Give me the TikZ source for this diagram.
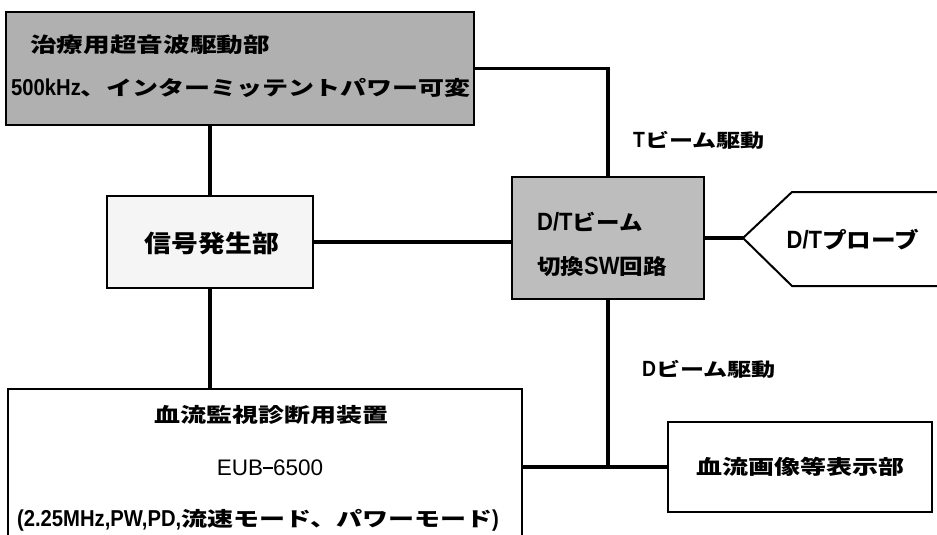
\documentclass[tikz,border=0pt]{standalone}
\usepackage{fontspec}
\newfontfamily\jpW{Noto Sans CJK JP}[FakeStretch=1.3]
\newfontfamily\jpM{Noto Sans CJK JP}[FakeStretch=1.12]
\newfontfamily\latf{Liberation Sans}
\newfontfamily\latN{Liberation Sans}[FakeStretch=0.88]
\newcommand\lt[2]{{\fontsize{#1}{#1}\selectfont\latN\bfseries #2}}
\begin{document}
\begin{tikzpicture}[x=1pt,y=-1pt,
  box/.style={draw=black, line width=2pt, inner sep=0pt},
  conn/.style={draw=black, line width=3.6pt},
  txt/.style={inner sep=0pt, text=black}]
\useasboundingbox (0,0) rectangle (937,535);
% boxes
\node[box, fill=black!31, minimum width=468pt, minimum height=113pt] (top) at (240,68.5) {};
\node[box, fill=black!26, minimum width=192pt, minimum height=122pt] (dt) at (608,238) {};
\node[box, fill=black!4, minimum width=206pt, minimum height=92pt] (sig) at (210,242) {};
\node[box, fill=white, minimum width=514pt, minimum height=156pt] (bot) at (265,467) {};
\node[box, fill=white, minimum width=264pt, minimum height=90pt] (disp) at (800,467) {};
% probe
\coordinate (tip) at (743,238);
\draw[line width=2pt, fill=white] (945,192) -- (792,192) -- (tip) -- (792,286) -- (945,286);
% connectors
\draw[conn] (top.east) -| (dt.north);
\draw[conn] (sig.north) -- (sig.north |- top.south);
\draw[conn] (sig.east) -- (sig.east -| dt.west);
\draw[conn] (dt.east) -- (tip);
\draw[conn] (sig.south) -- (sig.south |- bot.north);
\draw[conn] (bot.east) -- (disp.west);
\draw[conn] (dt.south) -- (dt.south |- disp.west);
% texts
\node[txt, anchor=west] (t1) at (30,45) {\jpW\bfseries\fontsize{20.5}{24}\selectfont 治療用超音波駆動部};
\node[txt, anchor=west] (t2) at (11,88) {\lt{23}{500kHz}{\fontsize{20}{24}\selectfont\jpW\bfseries 、インターミッテントパワー可変}};
\node[txt] (s1) at (212,243) {\jpM\bfseries\fontsize{24}{26}\selectfont 信号発生部};
\node[txt, anchor=west] (d1) at (537,222) {\lt{25}{D/T}{\fontsize{21}{24}\selectfont\jpM\bfseries ビーム}};
\node[txt, anchor=west] (d2) at (537,267) {{\fontsize{21}{24}\selectfont\jpM\bfseries 切換}\lt{25}{SW}{\fontsize{21}{24}\selectfont\jpM\bfseries 回路}};
\node[txt] (p1) at (853,240) {\lt{25}{D/T}{\fontsize{22}{26}\selectfont\jpM\bfseries プローブ}};
\node[txt, anchor=west] (tb) at (633,140) {\lt{22}{T}{\fontsize{18.5}{20}\selectfont\jpW\bfseries ビーム駆動}};
\node[txt, anchor=west] (db) at (642,369) {\lt{22}{D}{\fontsize{18.5}{20}\selectfont\jpW\bfseries ビーム駆動}};
\node[txt] (b1) at (271,415) {\jpW\bfseries\fontsize{20}{22}\selectfont 血流監視診断用装置};
\node[txt] (b2) at (270,468) {\latf\fontsize{22.5}{24}\selectfont EUB\raisebox{0.3em}{\rule{0.45em}{0.08em}}6500};
\node[txt] (b3) at (258,520) {\lt{23}{(2.25MHz,PW,PD,}{\fontsize{20}{22}\selectfont\jpW\bfseries 流速モード、パワーモード}\lt{23}{)}};
\node[txt] (x1) at (800,467) {\jpW\bfseries\fontsize{20}{22}\selectfont 血流画像等表示部};
\end{tikzpicture}
\end{document}
